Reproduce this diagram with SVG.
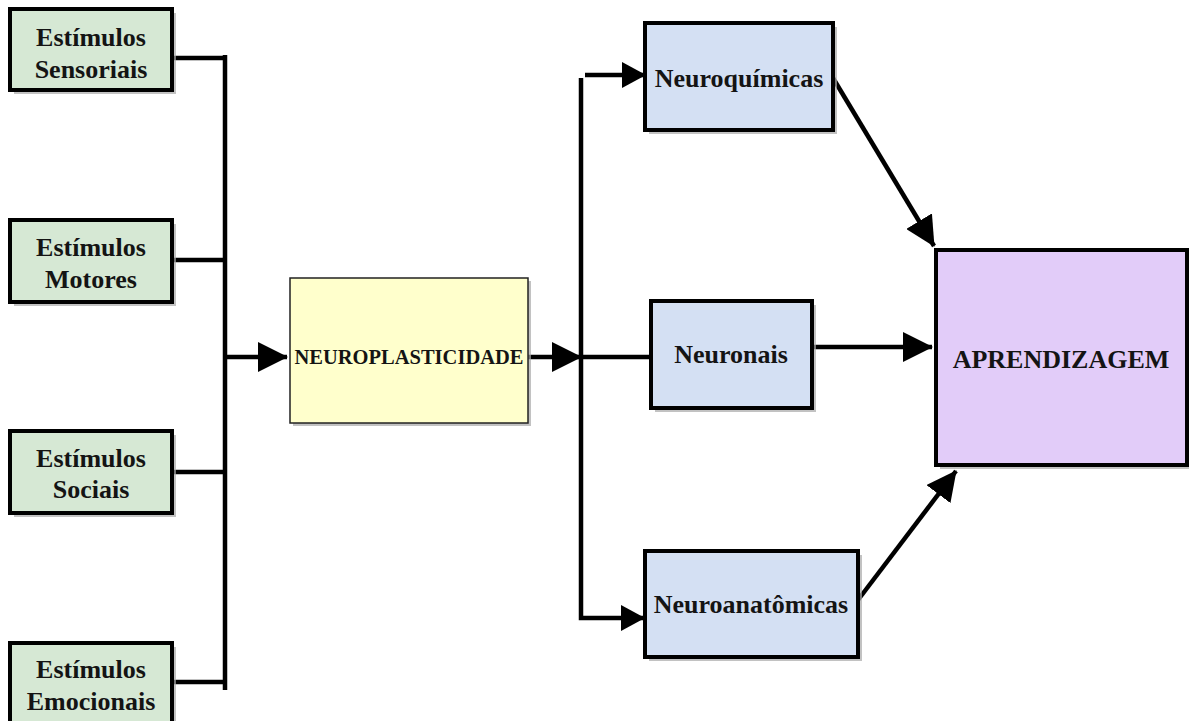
<svg xmlns="http://www.w3.org/2000/svg" width="1189" height="721" viewBox="0 0 1189 721">
<defs>
<marker id="ah" markerUnits="userSpaceOnUse" markerWidth="30" markerHeight="30" refX="29" refY="15" orient="auto" viewBox="0 0 30 30">
<path d="M0,0 L30,15 L0,30 z" fill="#000"/>
</marker>
<marker id="ahs" markerUnits="userSpaceOnUse" markerWidth="24" markerHeight="26" refX="23" refY="13" orient="auto" viewBox="0 0 24 26">
<path d="M0,0 L24,13 L0,26 z" fill="#000"/>
</marker>
</defs>
<style>
.sh{fill:#a8a8a8;opacity:0.7}
.g{fill:#d6e8d4;stroke:#000;stroke-width:4}
.b{fill:#d4e0f3;stroke:#000;stroke-width:4}
.p{fill:#e2ccf9;stroke:#000;stroke-width:4}
.y{fill:#ffffcc;stroke:#222;stroke-width:1.5}
.t{font-family:"Liberation Serif","Times New Roman",serif;font-weight:bold;font-size:26px;fill:#141414;text-anchor:middle}
.c{fill:none;stroke:#000;stroke-width:4.5}
</style>
<rect width="1189" height="721" fill="#fff"/>
<g id="connectors">
<path class="c" d="M172 58 H225"/>
<path class="c" d="M172 260 H225"/>
<path class="c" d="M172 472 H225"/>
<path class="c" d="M172 682 H225"/>
<path class="c" d="M225 55 V690"/>
<path class="c" d="M225 357 H287" marker-end="url(#ah)"/>
<path class="c" d="M528 357 H581" marker-end="url(#ah)"/>
<path class="c" d="M581 78 V618 H644" marker-end="url(#ahs)"/>
<path class="c" d="M585 75 H645" marker-end="url(#ahs)"/>
<path class="c" d="M581 357 H651"/>
<path class="c" d="M812 347 H932" marker-end="url(#ah)"/>
<path class="c" d="M833 78 L934 246" marker-end="url(#ah)"/>
<path class="c" d="M858 600 L956 471" marker-end="url(#ah)"/>
</g>
<g id="n-sensoriais">
<rect class="sh" x="14" y="13" width="162" height="81"/>
<rect class="g" x="10" y="9" width="162" height="81"/>
<text class="t" x="91" y="46">Estímulos</text>
<text class="t" x="91" y="78">Sensoriais</text>
</g>
<g id="n-motores">
<rect class="sh" x="14" y="224" width="162" height="82"/>
<rect class="g" x="10" y="220" width="162" height="82"/>
<text class="t" x="91" y="256">Estímulos</text>
<text class="t" x="91" y="288">Motores</text>
</g>
<g id="n-sociais">
<rect class="sh" x="14" y="435" width="162" height="82"/>
<rect class="g" x="10" y="431" width="162" height="82"/>
<text class="t" x="91" y="467">Estímulos</text>
<text class="t" x="91" y="498">Sociais</text>
</g>
<g id="n-emocionais">
<rect class="sh" x="14" y="647" width="162" height="84"/>
<rect class="g" x="10" y="643" width="162" height="84"/>
<text class="t" x="91" y="678">Estímulos</text>
<text class="t" x="91" y="710">Emocionais</text>
</g>
<g id="n-neuroplasticidade">
<rect class="sh" x="293" y="281" width="238" height="145"/>
<rect class="y" x="290" y="278" width="238" height="145"/>
<text class="t" x="409" y="364" style="font-size:20.5px">NEUROPLASTICIDADE</text>
</g>
<g id="n-neuroquimicas">
<rect class="sh" x="649" y="27" width="188" height="107"/>
<rect class="b" x="645" y="23" width="188" height="107"/>
<text class="t" x="739" y="87">Neuroquímicas</text>
</g>
<g id="n-neuronais">
<rect class="sh" x="655" y="305" width="161" height="107"/>
<rect class="b" x="651" y="301" width="161" height="107"/>
<text class="t" x="731" y="363">Neuronais</text>
</g>
<g id="n-neuroanatomicas">
<rect class="sh" x="649" y="555" width="213" height="106"/>
<rect class="b" x="645" y="551" width="213" height="106"/>
<text class="t" x="751" y="613">Neuroanatômicas</text>
</g>
<g id="n-aprendizagem">
<rect class="sh" x="940" y="254" width="251" height="215"/>
<rect class="p" x="936" y="250" width="251" height="215"/>
<text class="t" x="1061" y="368">APRENDIZAGEM</text>
</g>
</svg>
